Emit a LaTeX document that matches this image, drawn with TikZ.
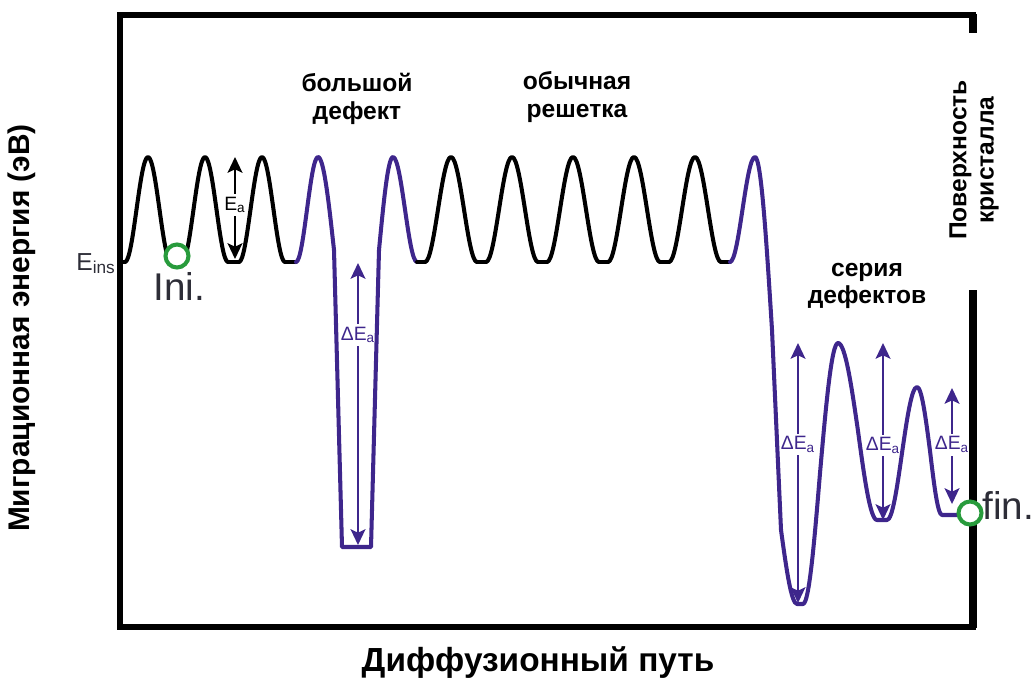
\documentclass[tikz,border=0pt]{standalone}
\usepackage{fontspec}
\setmainfont{Liberation Sans}
\usepackage{xcolor}
\definecolor{wellpurple}{RGB}{62,38,140}
\definecolor{ringgreen}{RGB}{40,155,60}
\definecolor{inkgray}{RGB}{45,45,55}
\usepackage{tikz}
\usetikzlibrary{arrows.meta}
\newcommand{\hump}[7]{%
  \draw[#1] (#2,#3) cos ({(#2+#4)/2},{(#3+#5)/2}) sin (#4,#5)
    cos ({(#4+#6)/2},{(#5+#7)/2}) sin (#6,#7);}
\newcommand{\barrier}[7]{%
  \coordinate (#1-top) at (#3,#4);
  \coordinate (#1-bot) at (#3,#5);
  \draw[dimarrow,#2] (#1-top) -- (#1-bot) node[tag,text=#2,pos=#6] (#1) {#7};}
\newcommand{\labelfont}{\fontsize{14}{15.5}\selectfont\bfseries}

\begin{document}
\begin{tikzpicture}[x=0.02cm,y=-0.02cm,
  lat/.style={line width=2.3pt,line cap=round,line join=round},
  defect/.style={lat,wellpurple},
  boxline/.style={line width=3.4pt},
  dimarrow/.style={line width=1pt,{Stealth[length=9pt,width=8.5pt,inset=2pt]}-{Stealth[length=9pt,width=8.5pt,inset=2pt]}},
  tag/.style={fill=white,inner sep=1.5pt,font=\fontsize{11}{13}\selectfont},
  ring/.style={circle,draw=ringgreen,line width=2.3pt,fill=white,minimum size=0.46cm,inner sep=0pt}]
  \useasboundingbox (0,0) rectangle (1033,686);
  % barriers
  \barrier{ea}{black}{235}{157}{259}{0.47}{E\textsubscript{a}}
  \barrier{dbig}{wellpurple}{358}{263}{545}{0.255}{ΔE\textsubscript{a}}
  \barrier{dser1}{wellpurple}{798}{343}{603}{0.39}{ΔE\textsubscript{a}}
  \barrier{dser2}{wellpurple}{883}{343}{520}{0.58}{ΔE\textsubscript{a}}
  \barrier{dser3}{wellpurple}{952}{388}{504}{0.49}{ΔE\textsubscript{a}}
  % frame, open on the crystal surface
  \draw[boxline] (973,33) -- (973,15) -- (120,15) -- (120,627) -- (973,627) -- (973,290);
  \draw[boxline,line width=5pt] (973,14) -- (973,33) (973,290) -- (973,628);
  % lattice near the start
  \draw[lat] (120,262) -- (125,262);
  \foreach \p in {148,205,262}{
    \hump{lat}{\p-23}{262}{\p}{157}{\p+23}{262}
    \draw[lat] (\p+23,262) -- (\p+34,262);}
  % big defect
  \draw[defect] (296,262) cos (307,209.5) sin (318,157) cos (334,250) -- (342,547)
    -- (371,547) -- (379,250) sin (393,157) cos (405,209.5) sin (417,262);
  % regular lattice
  \draw[lat] (417,262) -- (425,262);
  \foreach \p in {451,512,573,634,695}{
    \hump{lat}{\p-26}{262}{\p}{157}{\p+26}{262}
    \draw[lat] (\p+26,262) -- (\p+35,262);}
  % defect series
  \draw[defect] (730,262) cos (742.5,209.5) sin (755,157) cos (772,330) -- (781,530)
    sin (797,604) -- (803,604) cos (820,473) sin (838,343) cos (858,431) sin (877,520)
    -- (887,520) cos (902,453) sin (917,387) cos (930,451) sin (942,515) -- (966,515);
  \node[ring] (ini) at (177,256) {};
  \node[ring] (fin) at (970,513) {};
  \node[font=\fontsize{22}{24}\selectfont,text=inkgray,anchor=base west,inner sep=0pt] (inilbl) at (153,300) {Ini.};
  \node[font=\fontsize{22}{24}\selectfont,text=inkgray,anchor=base west,inner sep=0pt] (finlbl) at (982,519) {fin.};
  \node[font=\fontsize{14}{16}\selectfont,text=inkgray,anchor=base east,inner sep=0pt] (eins) at (116,270) {E\textsubscript{ins}};
  \node[font=\labelfont,align=center] (bigdef) at (357,99) {большой\\дефект};
  \node[font=\labelfont,align=center] (regular) at (577,97) {обычная\\решетка};
  \node[font=\labelfont,align=center] (series) at (867,286) {серия\\дефектов};
  \node[font=\labelfont,align=center,rotate=90] (surface) at (974,160) {Поверхность\\кристалла};
  \node[font=\fontsize{17}{20}\selectfont\bfseries,rotate=90] (yaxis) at (22,328) {Миграционная энергия (эВ)};
  \node[font=\fontsize{19}{22}\selectfont\bfseries] (xaxis) at (538,663) {Диффузионный путь};
\end{tikzpicture}
\end{document}
